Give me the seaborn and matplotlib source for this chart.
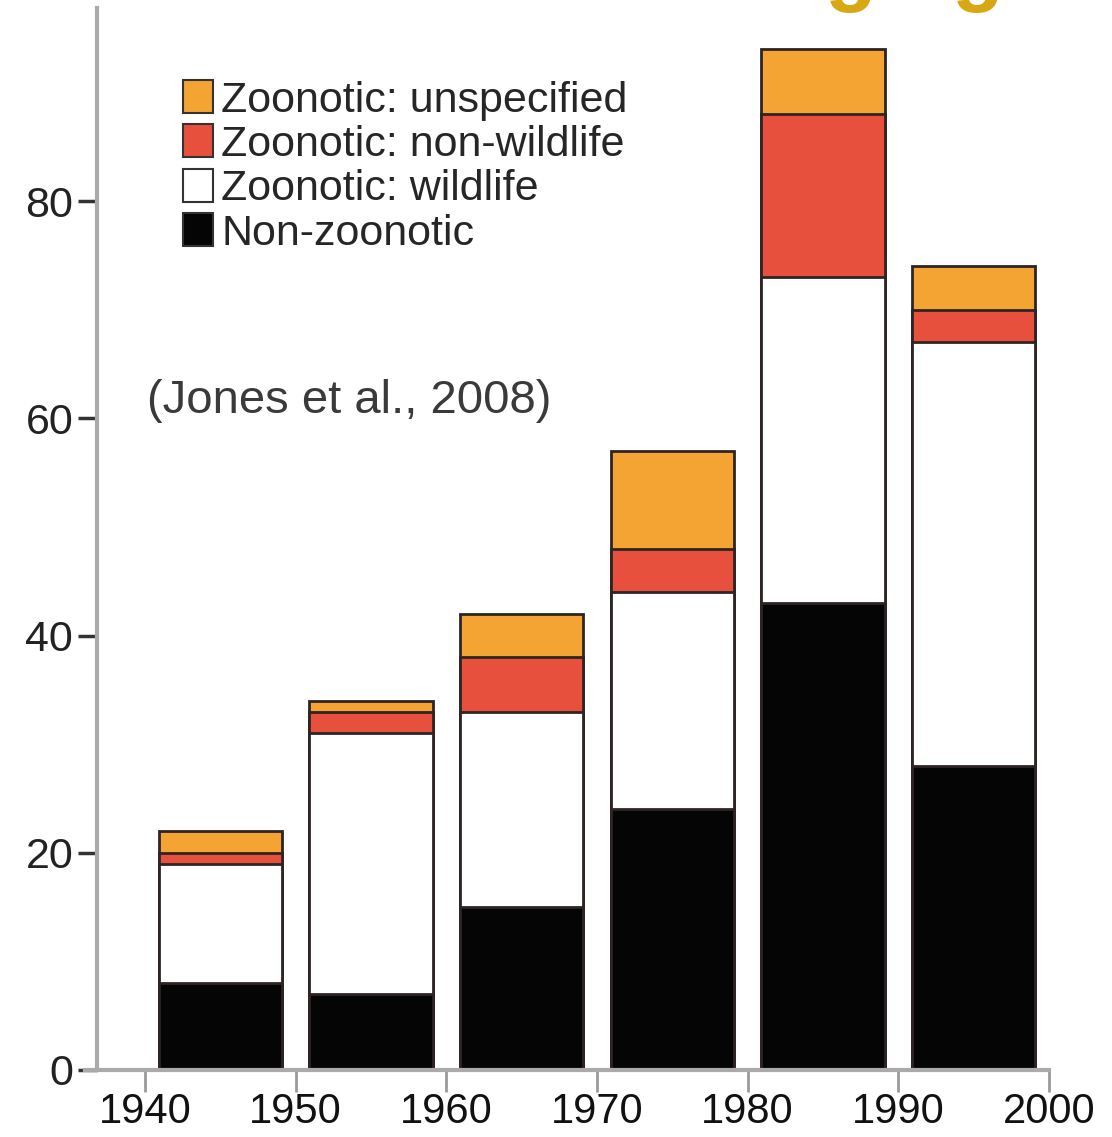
import numpy as np
import pandas as pd
import matplotlib
matplotlib.use('Agg')
import matplotlib.pyplot as plt
import seaborn as sns
from matplotlib.patches import Patch

# data (count of EID events per decade)
decades = [1945, 1955, 1965, 1975, 1985, 1995]
non_zoonotic = [8, 7, 15, 24, 43, 28]
zoo_wildlife = [11, 24, 18, 20, 30, 39]
zoo_nonwildlife = [1, 2, 5, 4, 15, 3]
zoo_unspecified = [2, 1, 4, 9, 6, 4]

year_ticks = [1940, 1950, 1960, 1970, 1980, 1990, 2000]
y_ticks = [0, 20, 40, 60, 80]

labels = ['Zoonotic: unspecified', 'Zoonotic: non-wildlife', 'Zoonotic: wildlife', 'Non-zoonotic']
colors = ['#F4A433', '#E8503E', '#FFFFFF', '#050505']

df = pd.DataFrame({
    'decade': decades,
    'Non-zoonotic': non_zoonotic,
    'Zoonotic: wildlife': zoo_wildlife,
    'Zoonotic: non-wildlife': zoo_nonwildlife,
    'Zoonotic: unspecified': zoo_unspecified,
})
# cumulative heights, top layer first so lower layers are painted over it
stack_order = ['Non-zoonotic', 'Zoonotic: wildlife', 'Zoonotic: non-wildlife', 'Zoonotic: unspecified']
cum = df[stack_order].cumsum(axis=1)

sns.set_style('white')
plt.rcParams['font.family'] = ['Liberation Sans', 'DejaVu Sans']

fig = plt.figure(figsize=(11.12, 11.37), dpi=100)
ax = fig.add_axes([0.087, 0.059, 0.859, 0.934])

for col, c in zip(reversed(stack_order), colors):
    sns.barplot(x=df['decade'], y=cum[col], native_scale=True, width=0.82,
                color=c, saturation=1, edgecolor='#2e2424', linewidth=2,
                errorbar=None, ax=ax)

ax.set_xlim(1936.8, 2000.2)
ax.set_ylim(0, 97.8)
ax.set_xlabel('')
ax.set_ylabel('')
ax.set_xticks(year_ticks)
ax.set_xticklabels([str(y) for y in year_ticks], fontsize=30)
ax.set_yticks(y_ticks)
ax.set_yticklabels([str(y) for y in y_ticks], fontsize=31, color='#222222')
ax.tick_params(axis='x', bottom=True, direction='out', length=16, width=2,
               color='#9a9a9a', pad=0, labelcolor='#111111')
ax.tick_params(axis='y', left=True, direction='out', length=14, width=2.5,
               color='#333333', pad=3)

for side in ['top', 'right']:
    ax.spines[side].set_visible(False)
ax.spines['left'].set_color('#aaaaaa')
ax.spines['left'].set_linewidth(3)
ax.spines['bottom'].set_color('#aaaaaa')
ax.spines['bottom'].set_linewidth(3)
ax.spines['bottom'].set_bounds(1936.0, 2000)

handles = [Patch(facecolor=c, edgecolor='#333333', linewidth=1.5) for c in colors]
ax.legend(handles, labels, loc='upper left', bbox_to_anchor=(0.09, 0.932),
          frameon=False, fontsize=31, handlelength=0.7, handleheight=0.8,
          handletextpad=0.2, labelspacing=0.09, borderpad=0, borderaxespad=0)

ax.text(0.053, 0.63, '(Jones et al., 2008)', transform=ax.transAxes,
        fontsize=34, color='#3a3a3a', va='center', ha='left')

# cropped title at the top edge: only the descenders show
fig.text(0.903, 1.004, 'Emerging', ha='right', va='baseline', fontsize=61,
         fontweight='bold', color='#D8A814')

fig.savefig('out.png', dpi=100)
